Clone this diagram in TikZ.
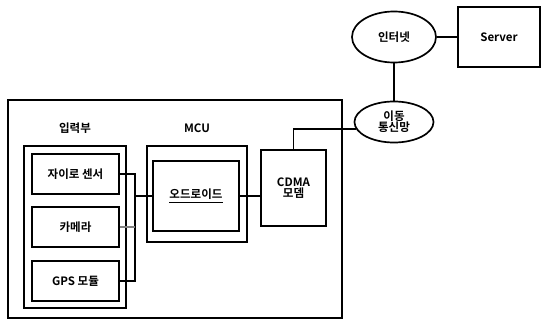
\documentclass[tikz,border=0pt]{standalone}
\usepackage{fontspec}
\setmainfont{Noto Sans CJK KR}[BoldFont={* Bold}]
\usetikzlibrary{shapes.geometric}

\begin{document}
\begin{tikzpicture}[x=0.025cm, y=-0.025cm, every node/.style={font=\fontsize{8.2}{10}\selectfont\bfseries, align=center},
	box/.style={draw, line width=1.4pt, rectangle, inner sep=0pt},
	cloud/.style={draw, line width=1.2pt, ellipse, inner sep=0pt},
	wire/.style={line width=1.1pt}]
	\useasboundingbox (0,0) rectangle (541,322);
	\node[cloud, minimum width=2.1cm, minimum height=1.275cm] (inet) at (394,37) {인터넷};
	\node[box, minimum width=2.05cm, minimum height=1.5cm] (server) at (499,37) {Server};
	\node[cloud, minimum width=1.975cm, minimum height=1.025cm] (mobile) at (394,122) {이동\\[-2pt]통신망};
	\node[box, minimum width=8.35cm, minimum height=5.45cm] (sys) at (175,209) {};
	\node (inlabel) at (75,128) {입력부};
	\node (mculabel) at (197,128) {MCU};
	\node[box, minimum width=2.55cm, minimum height=4.05cm] (ingrp) at (75,227) {};
	\node[box, minimum width=2.175cm, minimum height=1cm] (gyro) at (75.5,174) {자이로 센서};
	\node[box, minimum width=2.175cm, minimum height=1cm] (cam) at (75.5,227) {카메라};
	\node[box, minimum width=2.175cm, minimum height=1cm] (gps) at (75.5,281) {GPS 모듈};
	\node[box, minimum width=2.5cm, minimum height=2.4cm] (mcu) at (197,194) {};
	\node[box, minimum width=2.15cm, minimum height=1.75cm] (odroid) at (196,196) {\underline{오드로이드}};
	\node[box, minimum width=1.625cm, minimum height=1.9cm] (cdma) at (293.5,188) {CDMA\\[-2pt]모뎀};
	\coordinate (bus) at (135,196);
	\draw[wire] (inet) -- (server);
	\draw[wire] (inet.south) -- (mobile.north);
	\draw[wire] (cdma.north) |- (mobile.190);
	\draw[wire] (odroid) -- (odroid -| cdma.west);
	\draw[wire] (gyro.east) -| (bus) |- (gps.east);
	\draw[wire, gray] (cam.east) -- (cam.east -| bus);
	\draw[wire] (bus) -- (odroid.west);
\end{tikzpicture}
\end{document}
